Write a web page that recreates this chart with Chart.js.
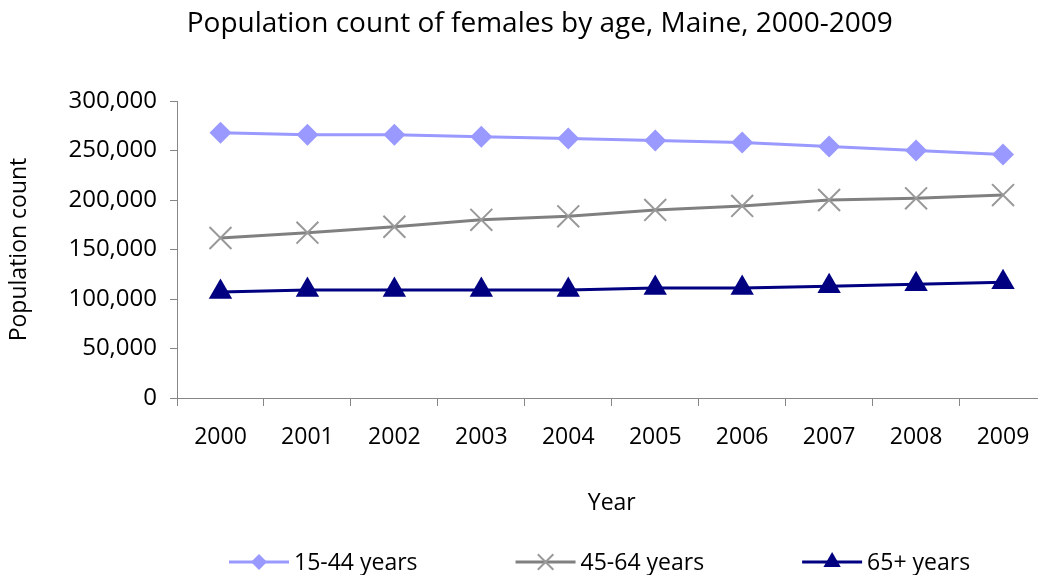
<!DOCTYPE html>
<html>
<head>
<meta charset="utf-8">
<title>Population count of females by age, Maine, 2000-2009</title>
<script src="https://cdn.jsdelivr.net/npm/chart.js@4.4.1/dist/chart.umd.min.js"></script>
<style>
  html, body { margin: 0; padding: 0; background: #fff; overflow: hidden; }
  canvas { display: block; }
</style>
</head>
<body>
<canvas id="pop-chart" width="1080" height="575"></canvas>
<script>
let years = ['2000', '2001', '2002', '2003', '2004', '2005', '2006', '2007', '2008', '2009'];
let females15to44 = [268000, 266000, 266000, 264000, 262000, 260000, 258000, 254000, 250000, 246000];
let females45to64 = [161600, 167000, 173000, 180000, 183500, 190000, 194000, 200000, 201700, 205000];
let females65plus = [107000, 109000, 109000, 109000, 109000, 111000, 111000, 113000, 115000, 117000];
let seriesNames = ['15-44 years', '45-64 years', '65+ years'];
let yMin = 0, yMax = 300000, yStep = 50000;

Chart.defaults.font.family = "'Open Sans', sans-serif";
Chart.defaults.font.size = 23;
Chart.defaults.color = '#000';

let axisGray = '#868686';

// excel style legend: short line with the marker in the middle, then the label
let lineLegend = {
    id: 'lineLegend',
    afterLayout(chart) {
        // title is centred on the full picture, not on the padded box
        if (chart.titleBlock) chart.titleBlock.right += 33;
    },
    afterDraw(chart) {
        let ctx = chart.ctx;
        let x = 229, y = 562;
        ctx.save();
        ctx.font = "23px 'Open Sans', sans-serif";
        ctx.textBaseline = 'middle';
        ctx.textAlign = 'left';
        chart.data.datasets.forEach(ds => {
            ctx.strokeStyle = ds.borderColor;
            ctx.lineWidth = 3;
            ctx.beginPath();
            ctx.moveTo(x, y);
            ctx.lineTo(x + 60, y);
            ctx.stroke();
            ctx.fillStyle = ds.pointBackgroundColor;
            ctx.strokeStyle = ds.pointBorderColor;
            ctx.lineWidth = ds.pointBorderWidth;
            Chart.helpers.drawPoint(ctx, {
                pointStyle: ds.pointStyle,
                radius: ds.legendRadius,
                rotation: 0,
                borderWidth: ds.pointBorderWidth
            }, x + 30, y);
            ctx.fillStyle = '#000';
            ctx.fillText(ds.label, x + 65, y + 1);
            x += 65 + ctx.measureText(ds.label).width + 98;
        });
        ctx.restore();
    }
};

let popData = {
    labels: years,
    datasets: [{
        label: seriesNames[0],
        data: females15to44,
        borderColor: '#9999FF',
        backgroundColor: '#9999FF',
        borderWidth: 3,
        pointStyle: 'rectRot',
        pointRadius: 11,
        pointBackgroundColor: '#9999FF',
        pointBorderColor: '#9999FF',
        pointBorderWidth: 0,
        legendRadius: 8,
        fill: false
    }, {
        label: seriesNames[1],
        data: females45to64,
        borderColor: '#808080',
        backgroundColor: '#808080',
        borderWidth: 3,
        pointStyle: 'crossRot',
        pointRadius: 15.5,
        pointBackgroundColor: 'rgba(0,0,0,0)',
        pointBorderColor: '#999999',
        pointBorderWidth: 2,
        legendRadius: 11,
        fill: false
    }, {
        label: seriesNames[2],
        data: females65plus,
        borderColor: '#000080',
        backgroundColor: '#000080',
        borderWidth: 3,
        pointStyle: 'triangle',
        pointRadius: 13.5,
        pointBackgroundColor: '#000080',
        pointBorderColor: '#000080',
        pointBorderWidth: 0,
        legendRadius: 10,
        fill: false
    }]
};

let popConfig = {
    type: 'line',
    data: popData,
    options: {
        responsive: false,
        animation: false,
        devicePixelRatio: 1,
        layout: {
            padding: { left: 0, right: 33.5, top: 0, bottom: 44 }
        },
        plugins: {
            legend: { display: false },
            tooltip: { enabled: false },
            title: {
                display: true,
                text: 'Population count of females by age, Maine, 2000-2009',
                font: { size: 28, weight: 'normal' },
                color: '#000',
                padding: { top: 7, bottom: 60.4 }
            }
        },
        scales: {
            x: {
                offset: true,
                grid: { offset: true, drawOnChartArea: false, color: axisGray, tickLength: 8 },
                border: { color: axisGray },
                ticks: { padding: 18, maxRotation: 0, autoSkip: false },
                title: { display: true, text: 'Year', padding: { top: 0, bottom: 14 } },
                afterFit: s => { s.height = 133; }
            },
            y: {
                min: yMin,
                max: yMax,
                ticks: {
                    stepSize: yStep,
                    padding: 13,
                    font: { size: 24 },
                    callback: v => v.toLocaleString('en-US')
                },
                grid: { drawOnChartArea: false, color: axisGray, tickLength: 7 },
                border: { color: axisGray },
                title: { display: true, text: 'Population count', padding: { top: 6, bottom: 0 } },
                afterFit: s => { s.width = 177; }
            }
        }
    },
    plugins: [lineLegend]
};

let popChart = new Chart(
    document.getElementById('pop-chart'),
    popConfig
);
</script>
</body>
</html>
